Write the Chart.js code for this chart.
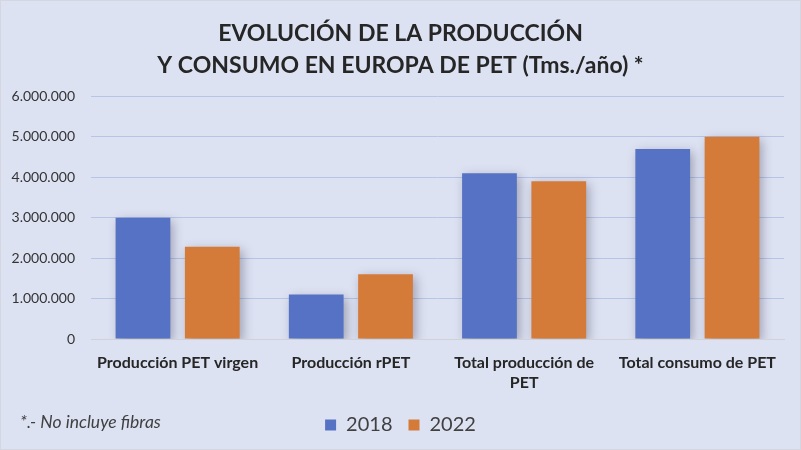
<!DOCTYPE html>
<html>
<head>
<meta charset="utf-8">
<script src="https://cdn.jsdelivr.net/npm/chart.js@4"></script>
<style>
html,body{margin:0;padding:0;background:#dde2f3;}
#wrap{width:801px;height:450px;position:relative;box-sizing:border-box;border:1px solid #d4d7df;}
canvas{display:block;}
</style>
</head>
<body>
<div id="wrap"><canvas id="c" width="799" height="448"></canvas></div>
<script>
const categories = ["Producción PET virgen", "Producción rPET", ["Total producción de", "PET"], "Total consumo de PET"];
const series2018 = [3000000, 1100000, 4100000, 4700000];
const series2022 = [2280000, 1600000, 3900000, 5000000];
const seriesNames = ["2018", "2022"];
const titleLines = ["EVOLUCIÓN DE LA PRODUCCIÓN", "Y CONSUMO EN EUROPA DE PET (Tms./año) *"];
const footnote = "*.- No incluye fibras";

function fmt(v){ return String(v).replace(/\B(?=(\d{3})+(?!\d))/g, '.'); }

const shadowPlugin = {
  id: 'shadow',
  beforeDatasetsDraw(chart){
    const ctx = chart.ctx;
    ctx.save();
    ctx.shadowColor = 'rgba(40,40,60,0.35)';
    ctx.shadowBlur = 10;
    ctx.shadowOffsetX = 3;
    ctx.shadowOffsetY = 3;
  },
  afterDatasetsDraw(chart){ chart.ctx.restore(); }
};
const notePlugin = {
  id: 'note',
  afterDraw(chart){
    const ctx = chart.ctx;
    ctx.save();
    ctx.font = 'italic 17.5px Lato';
    ctx.fillStyle = '#404040';
    ctx.textBaseline = 'middle';
    ctx.textAlign = 'left';
    ctx.fillText(footnote, 19, 421);
    ctx.restore();
  }
};

new Chart(document.getElementById('c'), {
  type: 'bar',
  data: {
    labels: categories,
    datasets: [
      {label: seriesNames[0], data: series2018, backgroundColor: '#5572c4'},
      {label: seriesNames[1], data: series2022, backgroundColor: '#d57b3a'}
    ]
  },
  options: {
    responsive: false,
    animation: false,
    devicePixelRatio: 1,
    categoryPercentage: 0.8,
    barPercentage: 0.79,
    layout: {padding: {left: 16, right: 16, top: 7, bottom: 4}},
    plugins: {
      title: {
        display: true,
        text: titleLines,
        color: '#262626',
        font: {family: 'Lato', size: 23, weight: 'bold', lineHeight: 1.4},
        padding: {top: 9, bottom: 15}
      },
      legend: {
        position: 'bottom',
        labels: {
          boxWidth: 11, boxHeight: 11,
          color: '#404040',
          font: {family: 'Lato', size: 20},
          padding: 16
        }
      },
      tooltip: {enabled: false}
    },
    scales: {
      x: {
        grid: {display: false},
        border: {display: true, color: '#d0d2d8'},
        ticks: {color: '#262626', font: {family: 'Lato', size: 16, weight: 'bold', lineHeight: 1.25}, padding: 6, maxRotation: 0}
      },
      y: {
        min: 0, max: 6000000,
        afterFit: s => { s.width = 74; s._computeLabelArea = () => undefined; },
        grid: {color: '#b6c4e8', drawTicks: false},
        border: {display: false},
        ticks: {stepSize: 1000000, color: '#333333', font: {family: 'Lato', size: 14}, padding: 16, callback: v => fmt(v)}
      }
    }
  },
  plugins: [shadowPlugin, notePlugin]
});
</script>
</body>
</html>
